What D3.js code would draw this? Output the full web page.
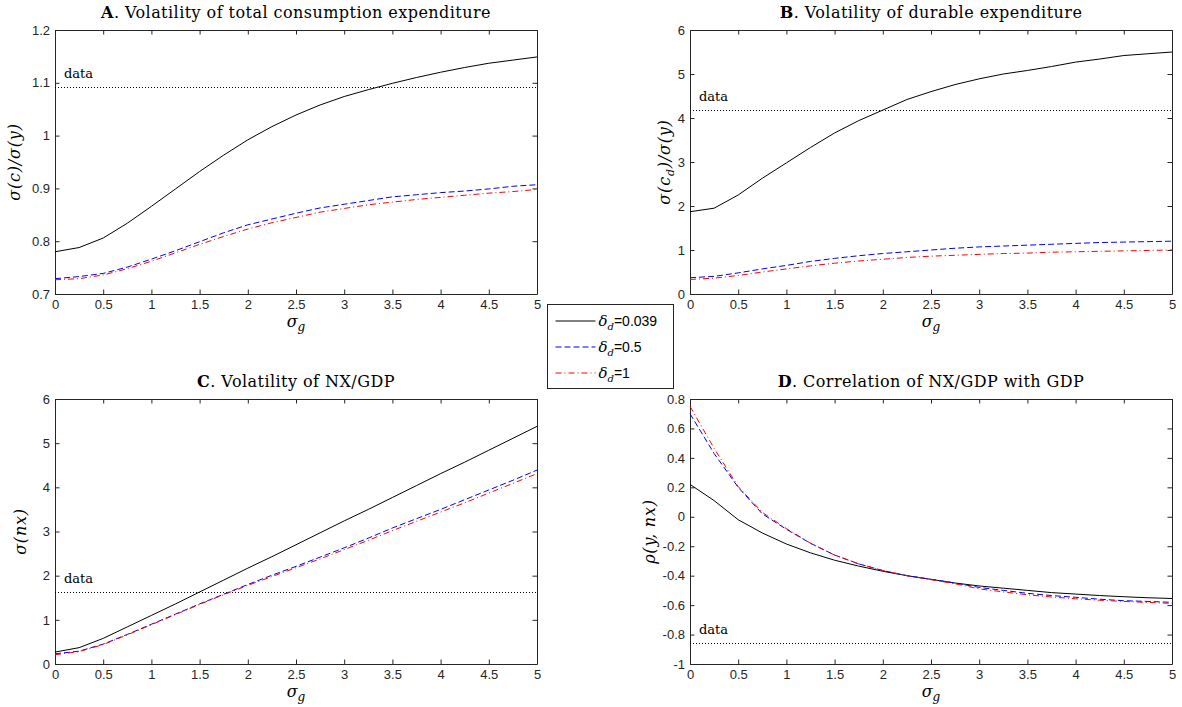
<!DOCTYPE html>
<html>
<head>
<meta charset="utf-8">
<script src="https://cdn.jsdelivr.net/npm/d3@7"></script>
<style>
  body { margin: 0; background: #fff; }
  svg { display: block; }
</style>
</head>
<body>
<svg id="fig" width="1182" height="707"></svg>
<script>
// sigma_g grid used by every panel
const sigmaG = [0, 0.25, 0.5, 0.75, 1, 1.25, 1.5, 1.75, 2, 2.25, 2.5, 2.75, 3, 3.25, 3.5, 3.75, 4, 4.25, 4.5, 4.75, 5];
const xTicks = [0, 0.5, 1, 1.5, 2, 2.5, 3, 3.5, 4, 4.5, 5];

// Panel A: sigma(c)/sigma(y)
const aTicks = [0.7, 0.8, 0.9, 1, 1.1, 1.2];
const aBlack = [0.780, 0.788, 0.806, 0.834, 0.866, 0.899, 0.932, 0.963, 0.992, 1.017, 1.039, 1.058, 1.074, 1.087, 1.099, 1.110, 1.120, 1.129, 1.137, 1.143, 1.149];
const aBlue = [0.729, 0.733, 0.739, 0.751, 0.766, 0.782, 0.799, 0.816, 0.831, 0.842, 0.853, 0.863, 0.870, 0.877, 0.884, 0.888, 0.892, 0.895, 0.899, 0.904, 0.907];
const aRed = [0.727, 0.729, 0.736, 0.748, 0.762, 0.778, 0.794, 0.809, 0.823, 0.835, 0.845, 0.855, 0.862, 0.869, 0.874, 0.879, 0.883, 0.887, 0.891, 0.894, 0.898];
const aData = 1.092;

// Panel B: sigma(c_d)/sigma(y)
const bTicks = [0, 1, 2, 3, 4, 5, 6];
const bBlack = [1.87, 1.95, 2.25, 2.63, 2.98, 3.33, 3.66, 3.94, 4.18, 4.42, 4.60, 4.76, 4.89, 5.00, 5.08, 5.17, 5.27, 5.34, 5.42, 5.46, 5.50];
const bBlue = [0.37, 0.40, 0.48, 0.57, 0.65, 0.74, 0.81, 0.87, 0.92, 0.96, 1.00, 1.04, 1.07, 1.09, 1.11, 1.13, 1.15, 1.17, 1.18, 1.19, 1.20];
const bRed = [0.33, 0.36, 0.42, 0.50, 0.57, 0.64, 0.70, 0.75, 0.79, 0.83, 0.86, 0.88, 0.90, 0.92, 0.93, 0.95, 0.96, 0.97, 0.98, 0.99, 1.00];
const bData = 4.19;

// Panel C: sigma(nx)
const cTicks = [0, 1, 2, 3, 4, 5, 6];
const cBlack = [0.27, 0.37, 0.58, 0.84, 1.10, 1.36, 1.63, 1.90, 2.17, 2.43, 2.70, 2.97, 3.24, 3.50, 3.77, 4.04, 4.31, 4.57, 4.84, 5.11, 5.38];
const cBlue = [0.23, 0.29, 0.45, 0.67, 0.90, 1.13, 1.36, 1.58, 1.80, 2.01, 2.21, 2.42, 2.63, 2.85, 3.08, 3.29, 3.50, 3.72, 3.94, 4.16, 4.39];
const cRed = [0.21, 0.28, 0.44, 0.66, 0.89, 1.12, 1.35, 1.57, 1.78, 1.98, 2.18, 2.38, 2.59, 2.80, 3.02, 3.23, 3.44, 3.65, 3.87, 4.09, 4.31];
const cData = 1.64;

// Panel D: rho(y, nx)
const dTicks = [-1, -0.8, -0.6, -0.4, -0.2, 0, 0.2, 0.4, 0.6, 0.8];
const dBlack = [0.22, 0.11, -0.02, -0.11, -0.185, -0.245, -0.295, -0.335, -0.37, -0.40, -0.425, -0.45, -0.47, -0.485, -0.50, -0.515, -0.525, -0.535, -0.543, -0.55, -0.555];
const dBlue = [0.70, 0.43, 0.20, 0.02, -0.085, -0.18, -0.26, -0.32, -0.365, -0.40, -0.425, -0.45, -0.48, -0.50, -0.52, -0.535, -0.547, -0.56, -0.57, -0.575, -0.581];
const dRed = [0.75, 0.465, 0.205, 0.03, -0.08, -0.18, -0.26, -0.32, -0.365, -0.40, -0.427, -0.455, -0.49, -0.51, -0.53, -0.545, -0.557, -0.567, -0.575, -0.582, -0.588];
const dData = -0.86;

const legendLabels = ['0.039', '0.5', '1'];

// Visual constants
const SERIF = '"DejaVu Serif", "Liberation Serif", serif';
const SANS = '"Liberation Sans", Arial, Helvetica, sans-serif';
const AXIS_COLOR = '#262626';
const TICK_LEN = 4.5;
const STYLES = [
    { stroke: '#000000', dash: null },
    { stroke: '#0000ff', dash: '6,3' },
    { stroke: '#ff0000', dash: '6,3,1,3' }
];

const svg = d3.select('#fig');
const fmt = d => String(+d.toFixed(2));

function drawPanel(p) {
    const x = d3.scaleLinear().domain([0, 5]).range([0, p.w]);
    const y = d3.scaleLinear().domain(p.yDomain).range([p.h, 0]);
    const g = svg.append('g').attr('transform', `translate(${p.left},${p.top})`);

    // --- 1. Axes (MATLAB box, ticks pointing inward) ---
    const bottom = g.append('g').attr('transform', `translate(0,${p.h})`)
        .call(d3.axisBottom(x).tickValues(xTicks).tickFormat(fmt).tickSizeInner(-TICK_LEN).tickSizeOuter(0).tickPadding(6));
    const top = g.append('g')
        .call(d3.axisTop(x).tickValues(xTicks).tickFormat('').tickSizeInner(-TICK_LEN).tickSizeOuter(0));
    const left = g.append('g')
        .call(d3.axisLeft(y).tickValues(p.yTicks).tickFormat(fmt).tickSizeInner(-TICK_LEN).tickSizeOuter(0).tickPadding(5));
    const right = g.append('g').attr('transform', `translate(${p.w},0)`)
        .call(d3.axisRight(y).tickValues(p.yTicks).tickFormat('').tickSizeInner(-TICK_LEN).tickSizeOuter(0));

    [bottom, top, left, right].forEach(ax => {
        ax.selectAll('path.domain').attr('stroke', AXIS_COLOR);
        ax.selectAll('line').attr('stroke', AXIS_COLOR);
        ax.selectAll('text').attr('fill', AXIS_COLOR).style('font-family', SANS).style('font-size', '13px');
    });

    // --- 2. "data" reference line ---
    g.append('line')
        .attr('x1', x(0)).attr('x2', x(5))
        .attr('y1', Math.round(y(p.dataLevel)) + 0.5).attr('y2', Math.round(y(p.dataLevel)) + 0.5)
        .attr('stroke', '#000').attr('stroke-width', 1).attr('stroke-dasharray', '1,2');
    g.append('text')
        .attr('x', x(0) + 9).attr('y', y(p.dataLevel) - 9)
        .style('font-family', SERIF).style('font-size', '13px')
        .text('data');

    // --- 3. Model series ---
    const line = d3.line().x((d, i) => x(sigmaG[i])).y(d => y(d));
    p.series.forEach((s, i) => {
        g.append('path')
            .datum(s)
            .attr('d', line)
            .attr('fill', 'none')
            .attr('stroke', STYLES[i].stroke)
            .attr('stroke-width', 1)
            .attr('stroke-dasharray', STYLES[i].dash);
    });

    // --- 4. Title and labels ---
    const title = g.append('text')
        .attr('x', p.w / 2).attr('y', -12)
        .attr('text-anchor', 'middle')
        .style('font-family', SERIF).style('font-size', '16px').style('letter-spacing', '0.45px');
    title.append('tspan').attr('font-weight', 'bold').text(p.letter);
    title.append('tspan').text('. ' + p.title);

    const xl = g.append('text')
        .attr('x', p.w / 2).attr('y', p.h + 33)
        .attr('text-anchor', 'middle')
        .style('font-family', SERIF).style('font-size', '16px').style('font-style', 'italic');
    xl.append('tspan').text('σ');
    xl.append('tspan').attr('dy', 4).style('font-size', '12px').text('g');

    const yl = g.append('text')
        .attr('transform', `translate(${p.ylabelX},${p.h / 2}) rotate(-90)`)
        .attr('text-anchor', 'middle')
        .attr('dy', '0.35em')
        .style('font-family', SERIF).style('font-size', '16px').style('font-style', 'italic')
        .style('letter-spacing', '0.8px');
    p.ylabel.forEach(part => {
        const t = yl.append('tspan').text(part.t);
        if (part.sub) t.attr('dy', 4).style('font-size', '11px');
        if (part.up) t.attr('dy', -4);
    });
}

drawPanel({
    left: 55, top: 30, w: 482, h: 264, yDomain: [0.7, 1.2], yTicks: aTicks,
    series: [aBlack, aBlue, aRed], dataLevel: aData,
    letter: 'A', title: 'Volatility of total consumption expenditure',
    ylabelX: -41, ylabel: [{ t: 'σ(c)/σ(y)' }]
});
drawPanel({
    left: 690, top: 30, w: 482, h: 264, yDomain: [0, 6], yTicks: bTicks,
    series: [bBlack, bBlue, bRed], dataLevel: bData,
    letter: 'B', title: 'Volatility of durable expenditure',
    ylabelX: -26, ylabel: [{ t: 'σ(c' }, { t: 'd', sub: true }, { t: ')/σ(y)', up: true }]
});
drawPanel({
    left: 55, top: 399, w: 482, h: 265, yDomain: [0, 6], yTicks: cTicks,
    series: [cBlack, cBlue, cRed], dataLevel: cData,
    letter: 'C', title: 'Volatility of NX/GDP',
    ylabelX: -35, ylabel: [{ t: 'σ(nx)' }]
});
drawPanel({
    left: 690, top: 399, w: 482, h: 265, yDomain: [-1, 0.8], yTicks: dTicks,
    series: [dBlack, dBlue, dRed], dataLevel: dData,
    letter: 'D', title: 'Correlation of NX/GDP with GDP',
    ylabelX: -41, ylabel: [{ t: 'ρ(y, nx)' }]
});

// --- Legend (shared, between the panels) ---
const leg = svg.append('g').attr('transform', 'translate(547.5,304.5)');
leg.append('rect')
    .attr('width', 126).attr('height', 84)
    .attr('fill', '#fff').attr('stroke', AXIS_COLOR).attr('stroke-width', 1);
legendLabels.forEach((lab, i) => {
    const yy = 16.5 + i * 26;
    leg.append('line')
        .attr('x1', 8).attr('x2', 48).attr('y1', yy).attr('y2', yy)
        .attr('stroke', STYLES[i].stroke).attr('stroke-width', 1)
        .attr('stroke-dasharray', STYLES[i].dash);
    const t = leg.append('text').attr('x', 51).attr('y', yy + 5);
    t.append('tspan').style('font-family', SERIF).style('font-style', 'italic').style('font-size', '15px').text('δ');
    t.append('tspan').attr('dy', 4).style('font-family', SERIF).style('font-style', 'italic').style('font-size', '10px').text('d');
    t.append('tspan').attr('dy', -4).style('font-family', SANS).style('font-size', '14px').text('=' + lab);
});
</script>
</body>
</html>
